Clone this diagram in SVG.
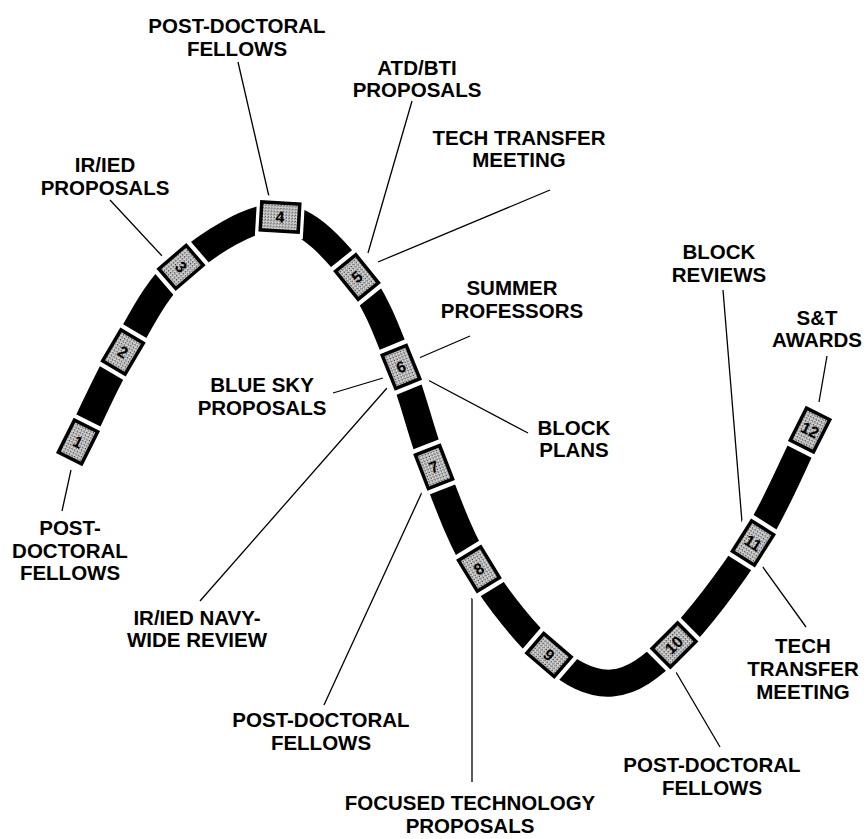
<svg xmlns="http://www.w3.org/2000/svg" width="868" height="839" viewBox="0 0 868 839">
<defs>
<pattern id="stip" width="3" height="3" patternUnits="userSpaceOnUse"><rect width="3" height="3" fill="#c4c4c4"/><rect width="1" height="1" fill="#3a3a3a"/><rect x="2" y="1" width="1" height="1" fill="#7a7a7a"/><rect x="1" y="2" width="1" height="1" fill="#e8e8e8"/></pattern>
<style>
.lbl{font-family:"Liberation Sans",Arial,sans-serif;font-weight:bold;font-size:20.5px;fill:#000;text-anchor:middle}
.num{font-family:"Liberation Sans",Arial,sans-serif;font-weight:bold;font-size:16px;fill:#000;text-anchor:middle;dominant-baseline:central}
.lead{stroke:#000;stroke-width:1.3;fill:none}
.band{stroke:#000;stroke-width:27;fill:none}
.gap{fill:#fff}
.box{fill:url(#stip);stroke:#000;stroke-width:3.5}
</style>
</defs>
<rect width="868" height="839" fill="#fff"/>
<g id="band">
<path class="band" d="M78,442 C93,412 105.8,381.2 123,352 C140.2,322.8 154.8,289.5 181,267 C207.2,244.5 250.7,215.3 280,217 C309.3,218.7 336.8,252 357,277 C377.2,302 388.2,335.3 401,367 C413.8,398.7 421,433.3 434,467 C447,500.7 459.8,537.7 479,569 C498.2,600.3 526.8,636 549,655 C571.2,674 591.2,684.7 612,683 C632.8,681.3 650.5,668.3 674,645 C697.5,621.7 730.3,578.8 753,543 C775.7,507.2 791,467.7 810,430"/>
</g>
<g id="connectors">
<line class="lead" x1="238" y1="62" x2="270" y2="201"/>
<line class="lead" x1="110" y1="200" x2="163" y2="257"/>
<line class="lead" x1="412" y1="101" x2="368" y2="253"/>
<line class="lead" x1="550" y1="190" x2="378" y2="262"/>
<line class="lead" x1="470" y1="336" x2="419" y2="358"/>
<line class="lead" x1="333" y1="393" x2="383" y2="378"/>
<line class="lead" x1="426" y1="379" x2="528" y2="433"/>
<line class="lead" x1="387" y1="388" x2="200" y2="601"/>
<line class="lead" x1="423" y1="490" x2="324" y2="705"/>
<line class="lead" x1="472" y1="598" x2="472" y2="782"/>
<line class="lead" x1="673" y1="667" x2="720" y2="747"/>
<line class="lead" x1="760" y1="563" x2="806" y2="627"/>
<line class="lead" x1="723" y1="290" x2="742" y2="522"/>
<line class="lead" x1="827" y1="356" x2="819" y2="402"/>
<line class="lead" x1="71" y1="470" x2="62" y2="511"/>
</g>
<g id="step1" transform="translate(78,442) rotate(-63.4)"><rect class="gap" x="-24" y="-21" width="48" height="42"/><rect class="box" x="-18" y="-13" width="36" height="26"/><text class="num" transform="rotate(90)">1</text></g>
<g id="step2" transform="translate(123,352) rotate(-59.5)"><rect class="gap" x="-24" y="-21" width="48" height="42"/><rect class="box" x="-18" y="-13" width="36" height="26"/><text class="num" transform="rotate(90)">2</text></g>
<g id="step3" transform="translate(181,267) rotate(-40.7)"><rect class="gap" x="-24" y="-21" width="48" height="42"/><rect class="box" x="-18" y="-13" width="36" height="26"/><text class="num" transform="rotate(90)">3</text></g>
<g id="step4" transform="translate(280,217) rotate(3.3)"><rect class="gap" x="-24" y="-21" width="48" height="42"/><rect class="box" x="-19" y="-14" width="38" height="28"/><text class="num">4</text></g>
<g id="step5" transform="translate(357,277) rotate(51.1)"><rect class="gap" x="-24" y="-21" width="48" height="42"/><rect class="box" x="-18" y="-13" width="36" height="26"/><text class="num" transform="rotate(-90)">5</text></g>
<g id="step6" transform="translate(401,367) rotate(67.9)"><rect class="gap" x="-24" y="-21" width="48" height="42"/><rect class="box" x="-18" y="-13" width="36" height="26"/><text class="num" transform="rotate(-90)">6</text></g>
<g id="step7" transform="translate(434,467) rotate(68.9)"><rect class="gap" x="-24" y="-21" width="48" height="42"/><rect class="box" x="-18" y="-13" width="36" height="26"/><text class="num" transform="rotate(-90)">7</text></g>
<g id="step8" transform="translate(479,569) rotate(58.5)"><rect class="gap" x="-24" y="-21" width="48" height="42"/><rect class="box" x="-18" y="-13" width="36" height="26"/><text class="num" transform="rotate(-90)">8</text></g>
<g id="step9" transform="translate(549,655) rotate(40.6)"><rect class="gap" x="-24" y="-21" width="48" height="42"/><rect class="box" x="-18" y="-13" width="36" height="26"/><text class="num">9</text></g>
<g id="step10" transform="translate(674,645) rotate(-44.8)"><rect class="gap" x="-24" y="-21" width="48" height="42"/><rect class="box" x="-18" y="-13" width="36" height="26"/><text class="num">10</text></g>
<g id="step11" transform="translate(753,543) rotate(-57.7)"><rect class="gap" x="-24" y="-21" width="48" height="42"/><rect class="box" x="-18" y="-13" width="36" height="26"/><text class="num" transform="rotate(90)">11</text></g>
<g id="step12" transform="translate(810,430) rotate(-63.2)"><rect class="gap" x="-24" y="-21" width="48" height="42"/><rect class="box" x="-18" y="-13" width="36" height="26"/><text class="num" transform="rotate(90)">12</text></g>
<g id="label-postdoc-top"><text class="lbl" x="237" y="33">POST-DOCTORAL</text><text class="lbl" x="237" y="56">FELLOWS</text></g>
<g id="label-iried"><text class="lbl" x="105" y="172">IR/IED</text><text class="lbl" x="105" y="195">PROPOSALS</text></g>
<g id="label-atdbti"><text class="lbl" x="417" y="75">ATD/BTI</text><text class="lbl" x="417" y="97">PROPOSALS</text></g>
<g id="label-techtransfer-top"><text class="lbl" x="519" y="145">TECH TRANSFER</text><text class="lbl" x="519" y="167">MEETING</text></g>
<g id="label-summer"><text class="lbl" x="512" y="295">SUMMER</text><text class="lbl" x="512" y="318">PROFESSORS</text></g>
<g id="label-bluesky"><text class="lbl" x="262" y="392">BLUE SKY</text><text class="lbl" x="262" y="415">PROPOSALS</text></g>
<g id="label-blockplans"><text class="lbl" x="574" y="435">BLOCK</text><text class="lbl" x="574" y="457">PLANS</text></g>
<g id="label-blockreviews"><text class="lbl" x="719" y="259">BLOCK</text><text class="lbl" x="719" y="282">REVIEWS</text></g>
<g id="label-st"><text class="lbl" x="817" y="325">S&amp;T</text><text class="lbl" x="817" y="347">AWARDS</text></g>
<g id="label-postdoc-left"><text class="lbl" x="70" y="535">POST-</text><text class="lbl" x="70" y="558">DOCTORAL</text><text class="lbl" x="70" y="580">FELLOWS</text></g>
<g id="label-navy"><text class="lbl" x="197" y="625">IR/IED NAVY-</text><text class="lbl" x="197" y="647">WIDE REVIEW</text></g>
<g id="label-techtransfer-right"><text class="lbl" x="803" y="653">TECH</text><text class="lbl" x="803" y="676">TRANSFER</text><text class="lbl" x="803" y="699">MEETING</text></g>
<g id="label-postdoc-bl"><text class="lbl" x="321" y="727">POST-DOCTORAL</text><text class="lbl" x="321" y="750">FELLOWS</text></g>
<g id="label-focused"><text class="lbl" x="470" y="810">FOCUSED TECHNOLOGY</text><text class="lbl" x="470" y="833">PROPOSALS</text></g>
<g id="label-postdoc-br"><text class="lbl" x="712" y="772">POST-DOCTORAL</text><text class="lbl" x="712" y="795">FELLOWS</text></g>
</svg>
